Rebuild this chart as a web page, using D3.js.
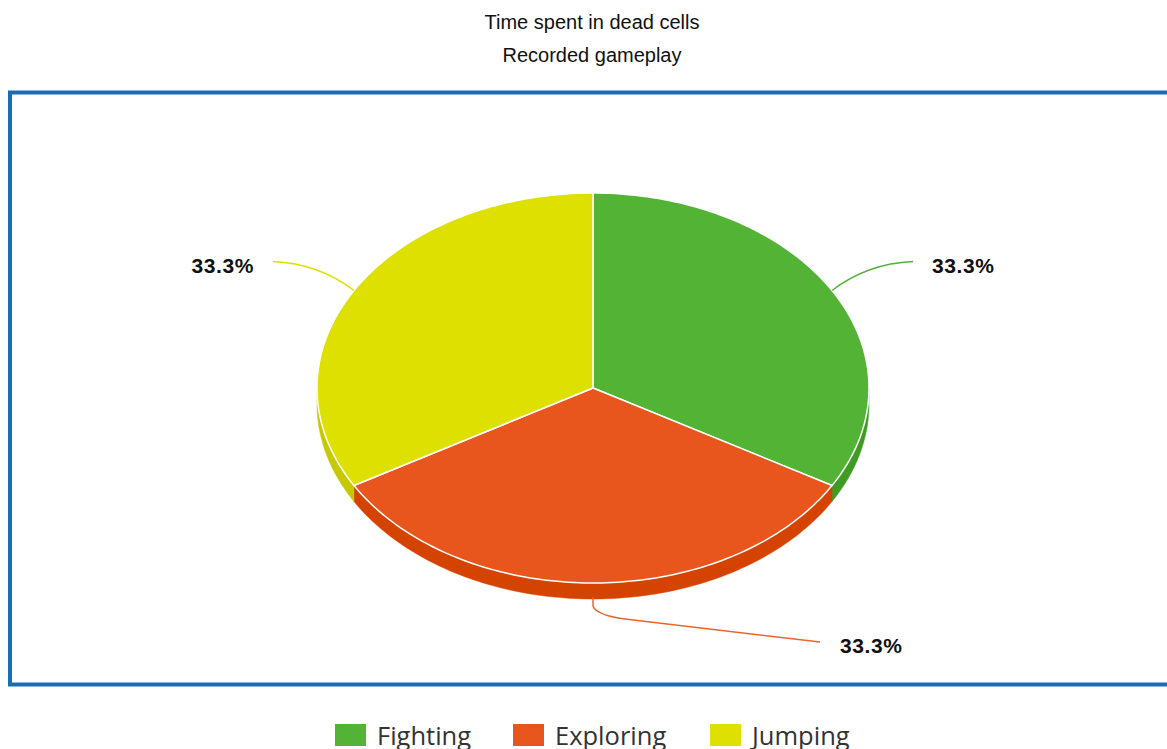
<!DOCTYPE html>
<html>
<head>
<meta charset="utf-8">
<script src="https://cdn.jsdelivr.net/npm/d3@7"></script>
<style>
  body { margin: 0; background: #fff; }
  svg { display: block; }
</style>
</head>
<body>
<script>
// chart data
var categories = ["Fighting", "Exploring", "Jumping"];
var values = [1, 1, 1];
var colors = ["#52b335", "#e8561e", "#dde000"];
var sideColors = ["#3f9c22", "#d44300", "#c6c900"];

var width = 1167, height = 749;
var cx = 593, cy = 388, rx = 276, ry = 195, depth = 16;

var svg = d3.select("body").append("svg")
    .attr("width", width).attr("height", height);

// titles
svg.append("text").attr("x", 592).attr("y", 29)
    .attr("text-anchor", "middle")
    .style("font-family", "Liberation Sans, Arial, sans-serif")
    .style("font-size", "20px").attr("fill", "#111")
    .text("Time spent in dead cells");
svg.append("text").attr("x", 592).attr("y", 62)
    .attr("text-anchor", "middle")
    .style("font-family", "Liberation Sans, Arial, sans-serif")
    .style("font-size", "20px").attr("fill", "#111")
    .text("Recorded gameplay");

// frame
svg.append("rect")
    .attr("x", 10).attr("y", 92.5)
    .attr("width", 1180).attr("height", 592)
    .attr("fill", "none").attr("stroke", "#1a6db3").attr("stroke-width", 4);

var total = d3.sum(values);
var pie = d3.pie().sort(null).value(d => d.value);
var arcs = pie(categories.map((c, i) => ({ name: c, value: values[i], i: i })));

function pt(a, dy) {
    return [cx + rx * Math.sin(a), cy - ry * Math.cos(a) + (dy || 0)];
}
function arcPts(a0, a1, dy) {
    var n = Math.max(2, Math.ceil((a1 - a0) / 0.02));
    return d3.range(n + 1).map(k => pt(a0 + (a1 - a0) * k / n, dy));
}
var line = d3.line();

// side walls (front half only)
var g = svg.append("g");
arcs.forEach(d => {
    var s = Math.max(d.startAngle, Math.PI / 2);
    var e = Math.min(d.endAngle, Math.PI * 1.5);
    if (e <= s) return;
    var pts = arcPts(s, e, 0).concat(arcPts(s, e, depth).reverse());
    g.append("path")
        .attr("d", line(pts) + "Z")
        .attr("fill", sideColors[d.data.i])
        .attr("stroke", sideColors[d.data.i]).attr("stroke-width", 0.5);
});

// top slices
arcs.forEach(d => {
    var pts = [[cx, cy]].concat(arcPts(d.startAngle, d.endAngle, 0));
    g.append("path")
        .attr("d", line(pts) + "Z")
        .attr("fill", colors[d.data.i])
        .attr("stroke", "#fff").attr("stroke-width", 1.5)
        .attr("stroke-linejoin", "round");
});

// leader lines and labels
arcs.forEach(d => {
    var m = (d.startAngle + d.endAngle) / 2;
    var sx = Math.sin(m);
    var front = Math.cos(m) < 0;
    var p = pt(m, front && Math.abs(sx) < 0.5 ? depth - 2 : 0);
    var col = colors[d.data.i] === "#e8561e" ? "#e8652e" : colors[d.data.i];
    var path, tx, ty, anchor;
    if (Math.abs(sx) < 0.5) {
        // bottom label: drop then sweep right
        path = "M" + p[0] + "," + p[1] + "L" + p[0] + "," + (p[1] + 9) +
            "Q" + (p[0] + 3) + "," + (p[1] + 18) + " " + (p[0] + 32) + "," + (p[1] + 22) +
            "L" + (p[0] + 227) + "," + (p[1] + 45);
        tx = p[0] + 247; ty = p[1] + 49; anchor = "start";
    } else {
        var dir = sx > 0 ? 1 : -1;
        var ex = p[0] + dir * 81, ey = p[1] - 29;
        path = "M" + p[0] + "," + p[1] + "Q" + (p[0] + dir * 35) + "," + (ey + 2) +
            " " + ex + "," + ey;
        tx = ex + dir * 19; ty = ey + 4; anchor = dir > 0 ? "start" : "end";
    }
    svg.append("path").attr("d", path)
        .attr("fill", "none").attr("stroke", col).attr("stroke-width", 1.5);
    svg.append("text").attr("x", tx).attr("y", ty).attr("dy", "0.35em")
        .attr("text-anchor", anchor)
        .style("font-family", "Liberation Sans, Arial, sans-serif")
        .style("font-size", "21px").style("font-weight", "bold")
        .style("letter-spacing", "0.6px")
        .attr("fill", "#111")
        .text(d3.format(".1%")(d.data.value / total));
});

// legend
var legendX = [335, 513, 710];
var lg = svg.append("g");
categories.forEach((c, i) => {
    lg.append("rect").attr("x", legendX[i]).attr("y", 724)
        .attr("width", 31).attr("height", 22).attr("fill", colors[i]);
    lg.append("text").attr("x", legendX[i] + 42).attr("y", 745)
        .style("font-family", "Open Sans, sans-serif")
        .style("font-size", "25.5px").attr("fill", "#333")
        .text(c);
});
</script>
</body>
</html>
